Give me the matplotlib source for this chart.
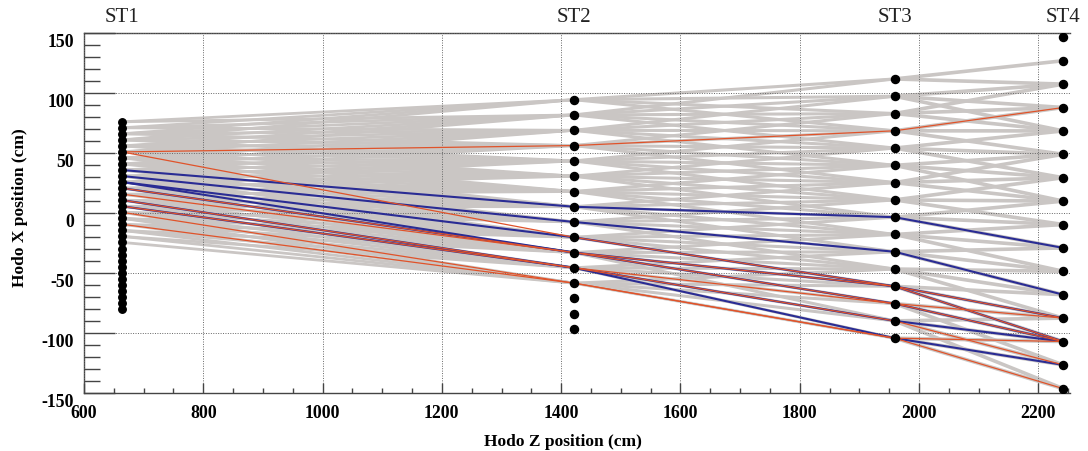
import matplotlib.pyplot as plt
import matplotlib.transforms as mtransforms
from matplotlib.ticker import MultipleLocator

plt.rcParams['axes.unicode_minus'] = False

# hodoscope stations: z position (cm)
station_names = ['ST1', 'ST2', 'ST3', 'ST4']
station_z = [664, 1422, 1959, 2242]

# paddle centres in X (cm), top to bottom
st1_x = [76.0, 71.0, 66.0, 60.9, 55.9, 50.9, 45.9, 40.8, 35.8, 30.8, 25.8, 20.7,
         15.7, 10.7, 5.6, 0.6, -4.4, -9.4, -14.5, -19.5, -24.5, -29.6, -34.6, -39.6,
         -44.6, -49.7, -54.7, -59.7, -64.8, -69.8, -74.8, -79.8]
st2_x = [94.4, 81.7, 68.9, 56.2, 43.4, 30.7, 17.9, 5.2, -7.5, -20.3, -33.0, -45.7,
         -58.5, -71.2, -84.0, -96.7]
st3_x = [111.7, 97.3, 82.9, 68.5, 54.1, 39.7, 25.3, 10.9, -3.5, -17.9, -32.3, -46.7,
         -61.1, -75.5, -89.9, -104.3]
st4_x = [146.4, 126.9, 107.4, 87.9, 68.4, 48.9, 29.4, 9.9, -9.6, -29.1, -48.6, -68.1,
         -87.6, -107.1, -126.6, -146.4]

# grey roads: for each ST2 paddle, the ST1 paddles it connects to (first, last)
road_12 = [(0, 3), (0, 5), (1, 7), (2, 8), (3, 10), (4, 11), (5, 12), (6, 14),
           (8, 15), (9, 17), (11, 18), (13, 19), (15, 20)]
# for each ST2 paddle, the ST3 paddles it connects to
road_23 = [(0, 3), (0, 4), (1, 5), (2, 6), (3, 7), (4, 8), (5, 9), (6, 10),
           (7, 11), (8, 12), (9, 14), (10, 15), (11, 15)]
# for each ST3 paddle, the ST4 paddles it connects to
road_34 = [(1, 2), (2, 4), (2, 4), (3, 5), (4, 6), (5, 7), (5, 7), (6, 8),
           (7, 9), (8, 10), (9, 11), (10, 12), (11, 13), (12, 14), (12, 15), (13, 15)]

# highlighted tracks: paddle index at ST1, ST2, ST3, ST4
blue_tracks = [(8, 7, 8, 9), (9, 8, 10, 11), (10, 9, 12, 12), (10, 10, 12, 13),
               (11, 10, 13, 13), (13, 11, 14, 13), (14, 11, 15, 14)]
red_tracks = [(5, 3, 3, 3), (5, 9, 12, 12), (11, 10, 12, 13), (12, 10, 13, 13),
              (13, 11, 13, 12), (14, 11, 14, 14), (15, 12, 15, 13), (17, 12, 15, 15)]

grey = '#cac6c4'
blue = '#2a2c94'
red = '#e0532a'
serif = 'Liberation Serif'

fig = plt.figure(figsize=(10.88, 4.52), dpi=100)
ax = fig.add_axes([0.0772, 0.1283, 0.9062, 0.7965])

# grey roads
for j, (lo, hi) in enumerate(road_12):
    for i in range(lo, hi + 1):
        ax.plot([station_z[0], station_z[1]], [st1_x[i], st2_x[j]], color=grey,
                lw=2.0, solid_capstyle='butt', zorder=1)
for j, (lo, hi) in enumerate(road_23):
    for k in range(lo, hi + 1):
        ax.plot([station_z[1], station_z[2]], [st2_x[j], st3_x[k]], color=grey,
                lw=2.2, solid_capstyle='butt', zorder=1)
for k, (lo, hi) in enumerate(road_34):
    for m in range(lo, hi + 1):
        ax.plot([station_z[2], station_z[3]], [st3_x[k], st4_x[m]], color=grey,
                lw=2.6, solid_capstyle='butt', zorder=1)

ax.grid(True, which='major', color='#666666', linestyle=(0, (1, 1.5)), lw=0.7, zorder=2)
ax.set_axisbelow(False)

# coloured tracks
for t in blue_tracks:
    ax.plot(station_z, [st1_x[t[0]], st2_x[t[1]], st3_x[t[2]], st4_x[t[3]]],
            color=blue, lw=1.5, zorder=3)
for t in red_tracks:
    ax.plot(station_z, [st1_x[t[0]], st2_x[t[1]], st3_x[t[2]], st4_x[t[3]]],
            color=red, lw=0.9, zorder=4)

# paddles
ax.plot([station_z[0]] * len(st1_x), st1_x, 'o', color='black', ms=5.4, zorder=5)
ax.plot([station_z[1]] * len(st2_x), st2_x, 'o', color='black', ms=5.8, zorder=5)
ax.plot([station_z[2]] * len(st3_x), st3_x, 'o', color='black', ms=5.8, zorder=5)
ax.plot([station_z[3]] * len(st4_x), st4_x, 'o', color='black', ms=5.8, zorder=5)

ax.set_xlim(600, 2253)
ax.set_ylim(-150, 150)

# station labels above the frame
trans = mtransforms.blended_transform_factory(ax.transData, ax.transAxes)
for z, name in zip(station_z, station_names):
    ax.text(z, 1.047, name, transform=trans, ha='center', va='center',
            fontsize=15, family=serif, color='#222222')

ax.xaxis.set_major_locator(MultipleLocator(200))
ax.xaxis.set_minor_locator(MultipleLocator(50))
ax.yaxis.set_major_locator(MultipleLocator(50))
ax.yaxis.set_minor_locator(MultipleLocator(10))
ax.tick_params(axis='both', which='both', direction='in', color='#444444', width=1,
               top=False, right=False)
ax.tick_params(axis='y', which='major', length=22, pad=7)
ax.tick_params(axis='y', which='minor', length=11.5)
ax.tick_params(axis='x', which='major', length=7, pad=8)
ax.tick_params(axis='x', which='minor', length=3.6)

for lab in ax.get_xticklabels() + ax.get_yticklabels():
    lab.set_fontfamily(serif)
    lab.set_fontweight('bold')
    lab.set_fontsize(12.8)
shift = mtransforms.ScaledTranslation(0, -0.065, fig.dpi_scale_trans)
for lab in ax.get_yticklabels():
    lab.set_transform(lab.get_transform() + shift)

ax.spines['right'].set_visible(False)
for s in ['left', 'bottom', 'top']:
    ax.spines[s].set_color('#444444')
    ax.spines[s].set_linewidth(1.0)

ax.set_xlabel('Hodo Z position (cm)', fontsize=12.5, fontweight='bold', family=serif,
              va='center')
ax.set_ylabel('Hodo X position (cm)', fontsize=12.5, fontweight='bold', family=serif,
              va='center')
ax.xaxis.set_label_coords(0.486, -0.1325)
ax.yaxis.set_label_coords(-0.065, 0.518)

fig.savefig('out.png', dpi=100)
